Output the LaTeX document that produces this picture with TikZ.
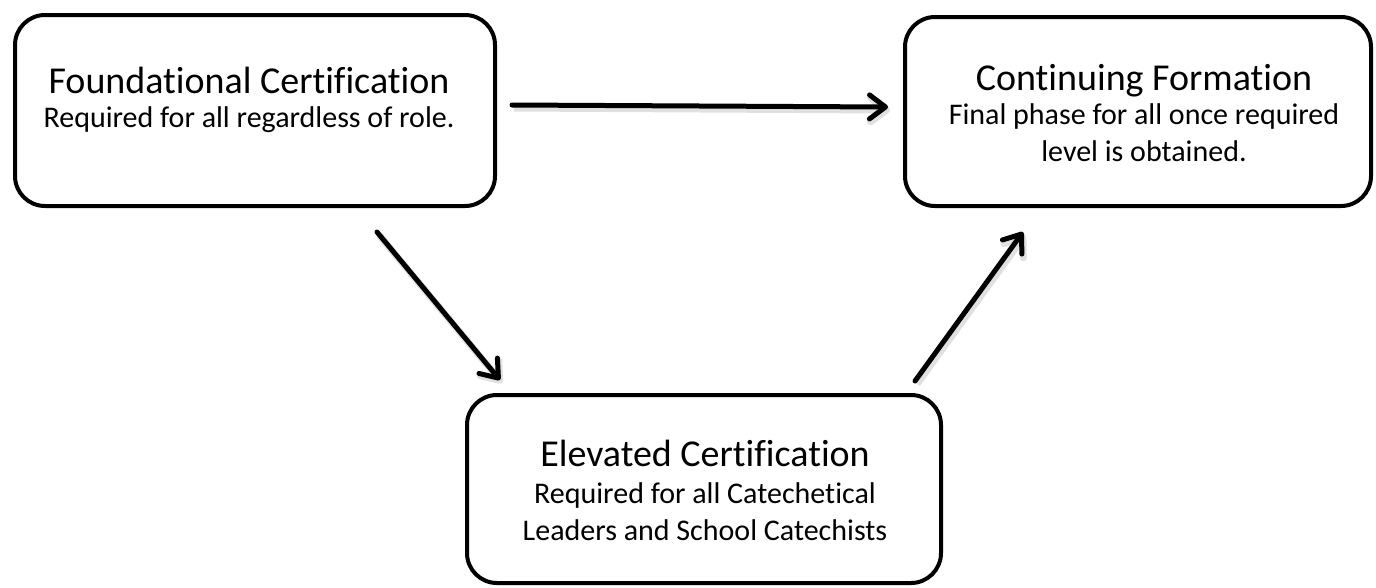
\documentclass[tikz,border=0pt]{standalone}
\usepackage{fontspec}
\setmainfont{Carlito}[Ligatures=NoCommon]
\usetikzlibrary{arrows.meta,positioning}
\newcommand\boxhead{\fontsize{38}{37}\selectfont}

\begin{document}
\begin{tikzpicture}[x=1pt,y=-1pt,
  box/.style={draw=black,line width=4pt,rounded corners=30pt,inner sep=0pt},
  blurb/.style={text width=470pt,align=flush center,anchor=base,inner sep=0pt,
    font=\fontsize{30}{37}\selectfont},
  link/.style={line width=5pt,line cap=round,
    -{Straight Barb[length=16pt,width=24pt,round]},
    preaction={draw=black!12,line width=7pt,transform canvas={shift={(2pt,-3pt)}}}}]
\useasboundingbox (0,0) rectangle (1376,587);

\node[box,minimum width=480pt,minimum height=191pt] (found) at (255,110.5) {};
\node[box,minimum width=466pt,minimum height=189pt] (cont) at (1138,111.5) {};
\node[box,minimum width=474pt,minimum height=188pt] (elev) at (704,489) {};

\node[blurb] (foundText) at ([shift={(-6,80)}]found.north)
  {{\boxhead Foundational Certification}\\[-3pt]Required for all regardless of role.};
\node[blurb] (contText) at ([shift={(6,75)}]cont.north)
  {{\boxhead Continuing Formation}\\[-3pt]Final phase for all once required\\level is obtained.};
\node[blurb] (elevText) at ([shift={(1,73)}]elev.north)
  {{\boxhead Elevated Certification}\\Required for all Catechetical\\Leaders and School Catechists};

\coordinate (foundOut) at ([shift={(15,-5.5)}]found.east);
\coordinate (contIn) at ([shift={(-15,-4.5)}]cont.west);
\coordinate (foundDown) at ([shift={(122,24)}]found.south);
\coordinate (elevIn) at ([shift={(35,-13)}]elev.north west);
\coordinate (elevOut) at ([shift={(-28,-12)}]elev.north east);
\coordinate (contUp) at ([shift={(120,24)}]cont.south west);

\draw[link] (foundOut) -- (contIn);
\draw[link] (foundDown) -- (elevIn);
\draw[link] (elevOut) -- (contUp);
\end{tikzpicture}
\end{document}
